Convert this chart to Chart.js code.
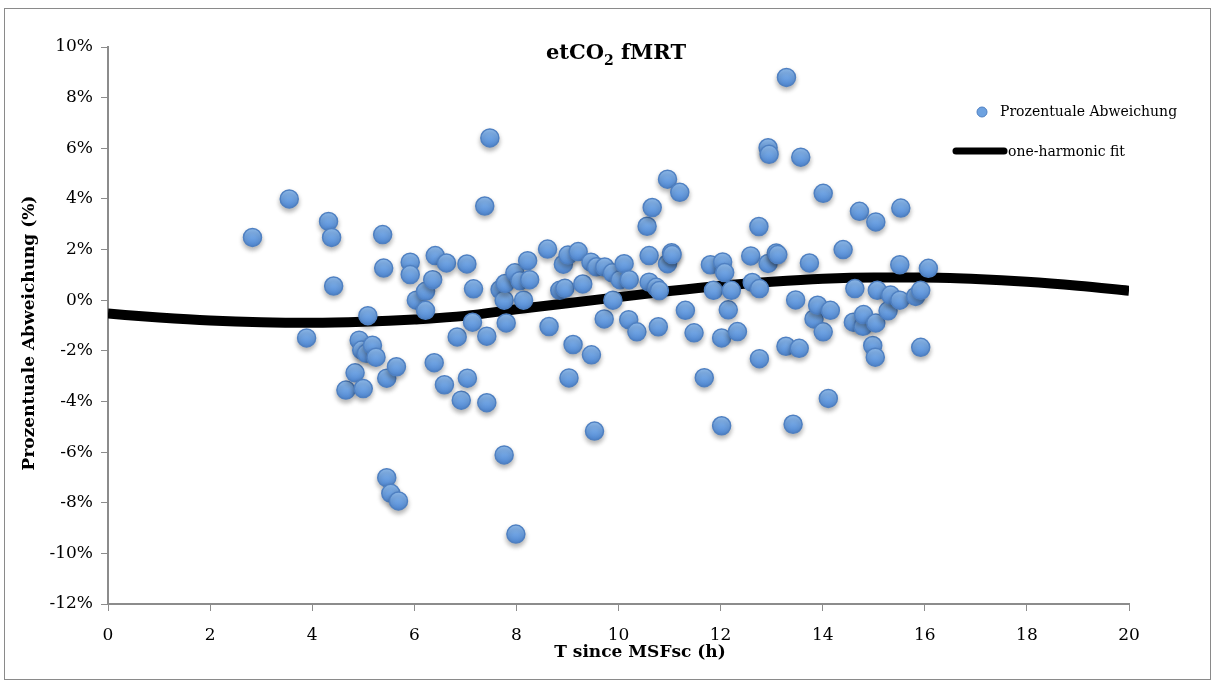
<!DOCTYPE html>
<html>
<head>
<meta charset="utf-8">
<script src="https://cdn.jsdelivr.net/npm/chart.js@4.4.1/dist/chart.umd.min.js"></script>
<style>
  html, body { margin: 0; background: #fff; }
  #wrap { position: relative; width: 1214px; height: 684px; }
  #rahmen { position: absolute; left: 4px; top: 8px; width: 1205px; height: 670px;
            border: 1px solid #8a8a8a; pointer-events: none; }
</style>
</head>
<body>
<div id="wrap">
  <canvas id="chart" width="1214" height="684"></canvas>
  <div id="rahmen"></div>
</div>
<script>
// Messpunkte: Zeit seit MSFsc (h) und prozentuale Abweichung (%)
const zeitH = [
  2.83, 3.55, 3.89, 4.32, 4.38, 4.42, 4.66, 4.84, 4.92, 4.97,
  5.00, 5.06, 5.09, 5.18, 5.25, 5.38, 5.40, 5.46, 5.65, 5.46,
  5.54, 5.69, 5.92, 5.92, 6.04, 6.22, 6.22, 6.36, 6.41, 6.39,
  6.59, 6.63, 6.84, 6.92, 7.03, 7.04, 7.14, 7.16, 7.38, 7.42,
  7.42, 7.48, 7.68, 7.76, 7.78, 7.80, 7.76, 7.97, 7.99, 8.07,
  8.14, 8.22, 8.26, 8.61, 8.64, 8.85, 8.95, 8.92, 9.01, 9.03,
  9.11, 9.21, 9.30, 9.46, 9.47, 9.53, 9.57, 9.73, 9.72, 9.88,
  9.89, 10.03, 10.11, 10.20, 10.21, 10.36, 10.56, 10.60, 10.60, 10.66,
  10.74, 10.78, 10.80, 10.96, 10.96, 11.04, 11.05, 11.20, 11.31, 11.48,
  11.68, 11.80, 11.86, 12.02, 12.02, 12.04, 12.08, 12.15, 12.21, 12.33,
  12.59, 12.62, 12.75, 12.76, 12.76, 12.93, 12.95, 12.93, 13.09, 13.12,
  13.28, 13.29, 13.42, 13.47, 13.54, 13.57, 13.74, 13.83, 13.90, 14.01,
  14.01, 14.11, 14.15, 14.40, 14.60, 14.63, 14.72, 14.79, 14.80, 14.98,
  15.03, 15.04, 15.04, 15.07, 15.28, 15.33, 15.51, 15.51, 15.53, 15.82,
  15.92, 15.92, 16.07
];
const abweichung = [
  2.48, 4.00, -1.49, 3.11, 2.48, 0.56, -3.55, -2.87, -1.58, -1.97,
  -3.49, -2.10, -0.61, -1.78, -2.25, 2.59, 1.27, -3.08, -2.63, -7.01,
  -7.63, -7.93, 1.50, 1.01, 0.00, 0.35, -0.40, 0.81, 1.76, -2.47,
  -3.34, 1.47, -1.45, -3.95, 1.43, -3.08, -0.87, 0.45, 3.72, -1.42,
  -4.05, 6.41, 0.42, 0.00, 0.66, -0.90, -6.11, 1.08, -9.24, 0.77,
  0.00, 1.56, 0.81, 2.02, -1.04, 0.39, 0.47, 1.42, 1.78, -3.07,
  -1.75, 1.92, 0.64, 1.50, -2.16, -5.17, 1.32, 1.31, -0.74, 1.08,
  0.00, 0.81, 1.44, -0.77, 0.81, -1.25, 2.92, 1.76, 0.71, 3.66,
  0.51, -1.05, 0.38, 4.78, 1.44, 1.87, 1.80, 4.26, -0.40, -1.29,
  -3.06, 1.40, 0.39, -1.49, -4.96, 1.51, 1.09, -0.38, 0.39, -1.24,
  1.75, 0.70, 2.91, 0.46, -2.31, 6.02, 5.76, 1.45, 1.86, 1.80,
  -1.82, 8.80, -4.90, 0.01, -1.90, 5.65, 1.47, -0.74, -0.20, 4.22,
  -1.25, -3.88, -0.40, 2.00, -0.87, 0.46, 3.51, -1.03, -0.57, -1.79,
  -2.25, -0.90, 3.09, 0.39, -0.42, 0.20, 0.00, 1.40, 3.64, 0.15,
  0.39, -1.86, 1.26
];

const fitZeit = [0, 1, 2, 3, 4, 5, 6, 7, 8, 9, 10, 11, 12, 13, 14, 15, 16, 17, 18, 19, 20];
const fitWerte = [-0.53, -0.68, -0.80, -0.87, -0.89, -0.85, -0.76, -0.62, -0.36, -0.12,
                  0.12, 0.36, 0.57, 0.73, 0.85, 0.90, 0.90, 0.84, 0.73, 0.57, 0.37];

const xTitel = "T since MSFsc (h)";
const yTitel = "Prozentuale Abweichung (%)";

const serif = "'DejaVu Serif', 'Liberation Serif', serif";
const PUNKT_R = 9;

// Kugel-Optik wie in Excel: oben heller, unten dunkler
function punktFarbe(context) {
  const chart = context.chart;
  const y = chart.scales && chart.scales.y;
  if (!context.parsed || !y) return "#6ea2e0";
  const py = y.getPixelForValue(context.parsed.y);
  if (!isFinite(py)) return "#6ea2e0";
  const g = chart.ctx.createLinearGradient(0, py - PUNKT_R, 0, py + PUNKT_R);
  g.addColorStop(0, "#93c0f2");
  g.addColorStop(0.5, "#6fa3e3");
  g.addColorStop(1, "#4f86d0");
  return g;
}

// Titel mit tiefgestellter 2, dazu die Achsentitel (in Excel leicht versetzt)
const titelPlugin = {
  id: "titel",
  afterDraw(chart) {
    const ctx = chart.ctx;
    ctx.save();
    ctx.fillStyle = "#000";
    ctx.textBaseline = "alphabetic";
    const gross = "bold 21px " + serif, klein = "bold 14px " + serif;
    ctx.font = gross;
    const w1 = ctx.measureText("etCO").width, w3 = ctx.measureText(" fMRT").width;
    ctx.font = klein;
    const w2 = ctx.measureText("2").width;
    let x = 616 - (w1 + w2 + w3) / 2;
    const y = 59;
    ctx.font = gross; ctx.fillText("etCO", x, y); x += w1;
    ctx.font = klein; ctx.fillText("2", x, y + 6); x += w2;
    ctx.font = gross; ctx.fillText(" fMRT", x, y);

    ctx.font = "bold 17px " + serif;
    ctx.textAlign = "center";
    ctx.textBaseline = "middle";
    ctx.fillText(xTitel, 640, 653);
    ctx.translate(30, 333);
    ctx.rotate(-Math.PI / 2);
    ctx.fillText(yTitel, 0, 0);
    ctx.restore();
  }
};

// Legende oben rechts im Diagramm
const legendePlugin = {
  id: "legende",
  afterDraw(chart) {
    const ctx = chart.ctx;
    const [punkte, fit] = chart.data.datasets;
    ctx.save();
    ctx.font = "14px " + serif;
    ctx.textBaseline = "middle";
    ctx.beginPath();
    ctx.arc(982, 112, 5, 0, Math.PI * 2);
    ctx.fillStyle = "#6ea2e0";
    ctx.fill();
    ctx.lineWidth = 1;
    ctx.strokeStyle = punkte.borderColor;
    ctx.stroke();
    ctx.fillStyle = "#000";
    ctx.fillText(punkte.label, 1000, 112);
    ctx.beginPath();
    ctx.moveTo(956, 151);
    ctx.lineTo(1004, 151);
    ctx.lineWidth = 7;
    ctx.lineCap = "round";
    ctx.strokeStyle = "#000";
    ctx.stroke();
    ctx.fillText(fit.label, 1008, 152);
    ctx.restore();
  }
};

// Schatten unter den Kreisen
const schattenPlugin = {
  id: "schatten",
  beforeDatasetDraw(chart, args) {
    if (args.index !== 0) return;
    const ctx = chart.ctx;
    ctx.save();
    ctx.shadowColor = "rgba(0,0,0,0.3)";
    ctx.shadowBlur = 5;
    ctx.shadowOffsetY = 3;
  },
  afterDatasetDraw(chart, args) {
    if (args.index === 0) chart.ctx.restore();
  }
};

new Chart(document.getElementById("chart").getContext("2d"), {
  type: "scatter",
  data: {
    datasets: [
      {
        label: "Prozentuale Abweichung",
        data: zeitH.map((x, i) => ({ x, y: abweichung[i] })),
        backgroundColor: punktFarbe,
        borderColor: "#4f80c2",
        borderWidth: 1.5,
        pointRadius: PUNKT_R,
        order: 1,
      },
      {
        type: "line",
        label: "one-harmonic fit",
        data: fitZeit.map((x, i) => ({ x, y: fitWerte[i] })),
        borderColor: "#000",
        borderWidth: 10,
        pointRadius: 0,
        cubicInterpolationMode: "monotone",
        fill: false,
        order: 2,
      },
    ],
  },
  options: {
    responsive: false,
    animation: false,
    events: [],
    layout: { padding: { top: 47, right: 85, bottom: 0, left: 0 } },
    plugins: { legend: { display: false }, tooltip: { enabled: false }, title: { display: false } },
    scales: {
      x: {
        type: "linear",
        min: 0, max: 20,
        ticks: { stepSize: 2, color: "#000", padding: 14, font: { family: serif, size: 17 } },
        grid: { drawOnChartArea: false, tickLength: 7, color: "#8c8c8c" },
        border: { color: "#8c8c8c", width: 2 },
        afterFit(scale) { scale.height = 80; },
      },
      y: {
        min: -12, max: 10,
        ticks: { stepSize: 2, color: "#000", padding: 8, font: { family: serif, size: 17 },
                 callback: v => v + "%" },
        grid: { drawOnChartArea: false, tickLength: 7, color: "#8c8c8c" },
        border: { color: "#8c8c8c", width: 2 },
        afterFit(scale) { scale.width = 108; },
      },
    },
  },
  plugins: [titelPlugin, legendePlugin, schattenPlugin],
});
</script>
</body>
</html>
